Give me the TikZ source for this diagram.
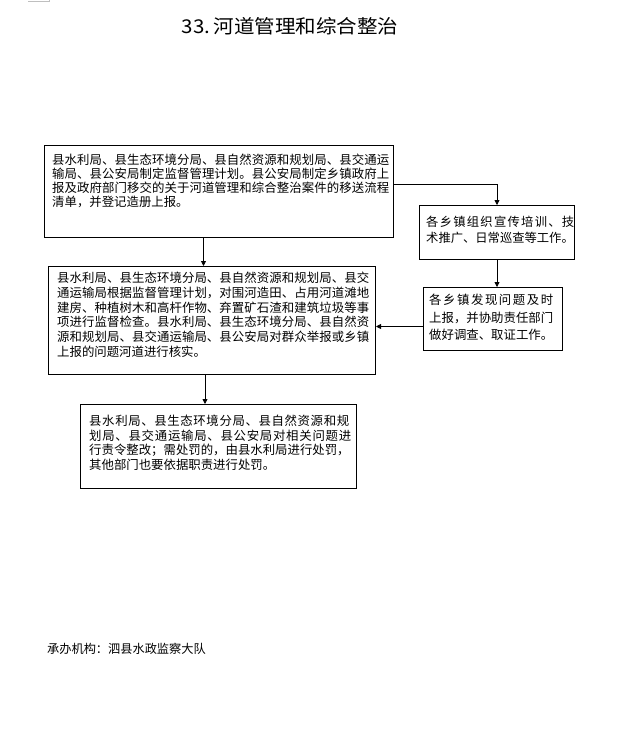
\documentclass[tikz,border=0pt]{standalone}
\usepackage{fontspec}
\usepackage{graphicx}
\setmainfont{Noto Sans CJK SC}
\usetikzlibrary{arrows.meta,calc}
\def\jgobble#1{}
\def\jlx#1{#1\futurelet\jnext\jly}
\def\jly{\ifx\jnext\relax\expandafter\jgobble\else\hfil\expandafter\jlx\fi}
\newcommand\jline[2]{\makebox[#1][s]{\jlx#2\relax}}
\tikzset{
  box/.style={draw, line width=1pt, inner sep=0pt, anchor=north west},
  txt/.style={inner sep=0pt, anchor=west, font=\fontsize{12.4}{14}\selectfont},
  arr/.style={line width=0.8pt, -{Triangle[length=5pt,width=5pt]}}
}
\begin{document}
\begin{tikzpicture}[x=1pt,y=1pt]
\path[fill=white] (0,0) rectangle (625,-734);
\useasboundingbox (0,0) rectangle (625,-734);
\draw[gray!50, line width=0.8pt] (28,-1) -- (49,-1) -- (49,0);

\node[font=\fontsize{19}{24}\selectfont, inner sep=0pt] (title) at (290,-26) {\scalebox{1.08}[1]{33.\,河道管理和综合整治}};

% boxes
\node[box, minimum width=349pt, minimum height=92pt] (b1) at (44,-145) {};
\node[box, minimum width=155pt, minimum height=54pt] (b2) at (419,-205) {};
\node[box, minimum width=139pt, minimum height=63pt] (b3) at (423,-287) {};
\node[box, minimum width=327pt, minimum height=108pt] (b4) at (48,-266) {};
\node[box, minimum width=276pt, minimum height=84pt] (b5) at (80,-404) {};

% box 1 text
\node[txt] (t11) at (52,-160) {\jline{337pt}{县水利局、县生态环境分局、县自然资源和规划局、县交通运}};
\node[txt] (t12) at (52,-174) {\jline{337pt}{输局、县公安局制定监督管理计划。县公安局制定乡镇政府上}};
\node[txt] (t13) at (52,-188) {\jline{337pt}{报及政府部门移交的关于河道管理和综合整治案件的移送流程}};
\node[txt] (t14) at (52,-202) {清单，并登记造册上报。};

% box 2 text
\node[txt, font=\fontsize{12.3}{14}\selectfont] (t21) at (426,-222) {\jline{148pt}{各乡镇组织宣传培训、技}};
\node[txt, font=\fontsize{12.3}{14}\selectfont] (t22) at (426,-238) {术推广、日常巡查等工作。};

% box 3 text
\node[txt] (t31) at (429,-300) {\jline{124pt}{各乡镇发现问题及时}};
\node[txt] (t32) at (429,-317.5) {上报，并协助责任部门};
\node[txt] (t33) at (429,-335) {做好调查、取证工作。};

% box 4 text
\node[txt] (t41) at (57,-278) {\jline{312pt}{县水利局、县生态环境分局、县自然资源和规划局、县交}};
\node[txt] (t42) at (57,-292.7) {\jline{312pt}{通运输局根据监督管理计划，对围河造田、占用河道滩地}};
\node[txt] (t43) at (57,-307.4) {\jline{312pt}{建房、种植树木和高杆作物、弃置矿石渣和建筑垃圾等事}};
\node[txt] (t44) at (57,-322.1) {\jline{312pt}{项进行监督检查。县水利局、县生态环境分局、县自然资}};
\node[txt] (t45) at (57,-336.8) {\jline{312pt}{源和规划局、县交通运输局、县公安局对群众举报或乡镇}};
\node[txt] (t46) at (57,-351.5) {上报的问题河道进行核实。};

% box 5 text
\node[txt] (t51) at (89,-421) {\jline{260pt}{县水利局、县生态环境分局、县自然资源和规}};
\node[txt] (t52) at (89,-435.7) {\jline{262pt}{划局、县交通运输局、县公安局对相关问题进}};
\node[txt] (t53) at (89,-450.4) {\jline{260pt}{行责令整改；需处罚的，由县水利局进行处罚，}};
\node[txt] (t54) at (89,-465) {其他部门也要依据职责进行处罚。};

% footer
\node[anchor=west, inner sep=0pt, font=\fontsize{12.2}{14}\selectfont] (foot) at (47,-649) {承办机构：泗县水政监察大队};

% connectors
\draw[arr] ([yshift=7pt]b1.east) -| (b2.north);
\draw[arr] (b2.south) -- (b2.south |- b3.north);
\draw[arr] ([yshift=-7.5pt]b3.west) -- ([yshift=-7.5pt]b3.west -| b4.east);
\draw[arr] ([xshift=-15.5pt]b1.south) -- ([xshift=-15.5pt]b1.south |- b4.north);
\draw[arr] ([xshift=-7pt]b4.south) -- ([xshift=-7pt]b4.south |- b5.north);
\end{tikzpicture}
\end{document}
